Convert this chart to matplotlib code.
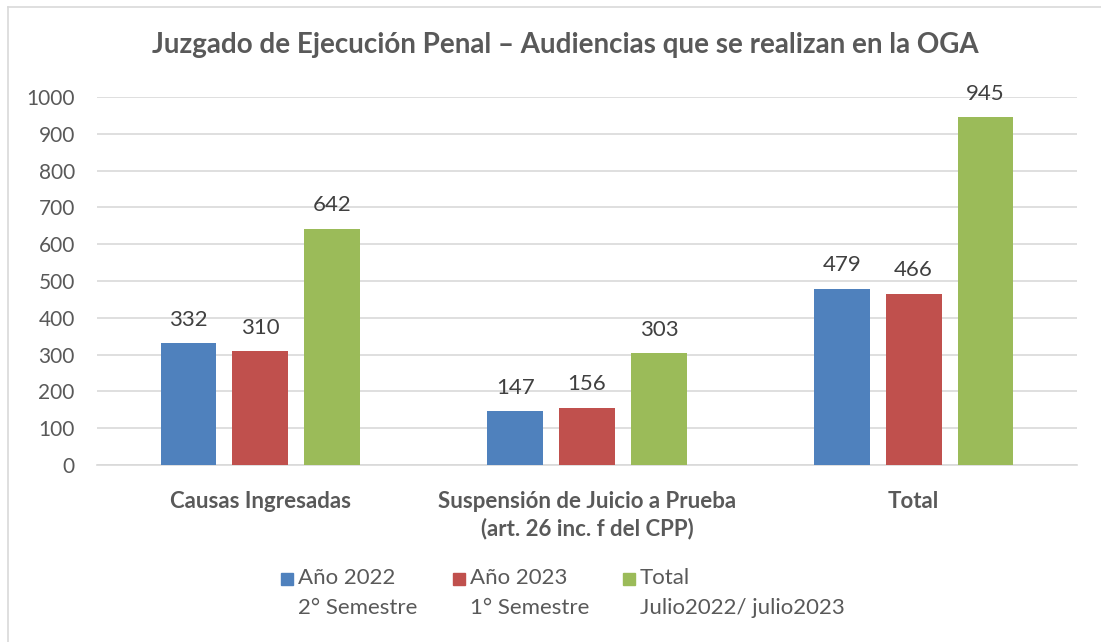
import matplotlib
matplotlib.use("Agg")
import matplotlib.pyplot as plt
from matplotlib.patches import Rectangle
from matplotlib.lines import Line2D
import numpy as np

categories = ["Causas Ingresadas", "Suspensión de Juicio a Prueba\n(art. 26 inc. f del CPP)", "Total"]
series_names = ["Año 2022", "Año 2023", "Total"]
series_sub = ["2° Semestre", "1° Semestre", "Julio2022/ julio2023"]
anio_2022 = [332, 147, 479]
anio_2023 = [310, 156, 466]
total = [642, 303, 945]
series_values = [anio_2022, anio_2023, total]
colors = ["#4f81bd", "#c0504d", "#9bbb59"]
yticks = list(range(0, 1001, 100))

plt.rcParams['font.family'] = ['Lato', 'DejaVu Sans']
txt = "#595959"

fig = plt.figure(figsize=(11.01, 6.42), dpi=100)
ax = fig.add_axes([97/1101, 1-465/642, (1077-97)/1101, (465-97)/642])

x = np.arange(len(categories))
w = 0.171
step = 0.22
for i, (vals, c) in enumerate(zip(series_values, colors)):
    pos = x + (i - 1) * step
    ax.bar(pos, vals, width=w, color=c, zorder=3)
    for xp, v in zip(pos, vals):
        ax.text(xp, v + 36, str(v), ha='center', va='bottom', fontsize=16, color="#404040")

ax.set_xlim(-0.5, 2.5)
ax.set_ylim(0, 1000)
ax.set_yticks(yticks)
ax.set_yticklabels([str(t) for t in yticks], fontsize=15, color=txt)
ax.yaxis.grid(True, color="#d9d9d9", linewidth=1.2, zorder=0)
ax.set_axisbelow(True)
for s in ["top", "right", "left"]:
    ax.spines[s].set_visible(False)
ax.spines["bottom"].set_color("#d9d9d9")
ax.spines["bottom"].set_linewidth(1.2)
ax.tick_params(axis='y', length=0, pad=16)
ax.tick_params(axis='x', length=0, pad=19)
ax.set_xticks(x)
ax.set_xticklabels(categories, fontsize=16, fontweight='bold', color=txt, linespacing=1.3)

fig.text(0.513, 1-45/642, "Juzgado de Ejecución Penal – Audiencias que se realizan en la OGA",
         ha='center', va='center', fontsize=20, fontweight='bold', color=txt)

# legend
leg_x = [281, 453, 623]
for lx, name, sub, c in zip(leg_x, series_names, series_sub, colors):
    fig.patches.append(Rectangle((lx/1101, 1-585/642), 12/1101, 12/642, color=c,
                                 transform=fig.transFigure, figure=fig))
    fig.text((lx+17)/1101, 1-578/642, name, ha='left', va='center', fontsize=16, color=txt)
    fig.text((lx+17)/1101, 1-608/642, sub, ha='left', va='center', fontsize=16, color=txt)

# border
fig.lines.append(Line2D([7.5/1101, 7.5/1101], [0, 1-7/642], transform=fig.transFigure,
                        color="#d9d9d9", linewidth=1.2, figure=fig))
fig.lines.append(Line2D([7.5/1101, 1], [1-7/642, 1-7/642], transform=fig.transFigure,
                        color="#d9d9d9", linewidth=1.2, figure=fig))

fig.savefig("out.png", dpi=100)
